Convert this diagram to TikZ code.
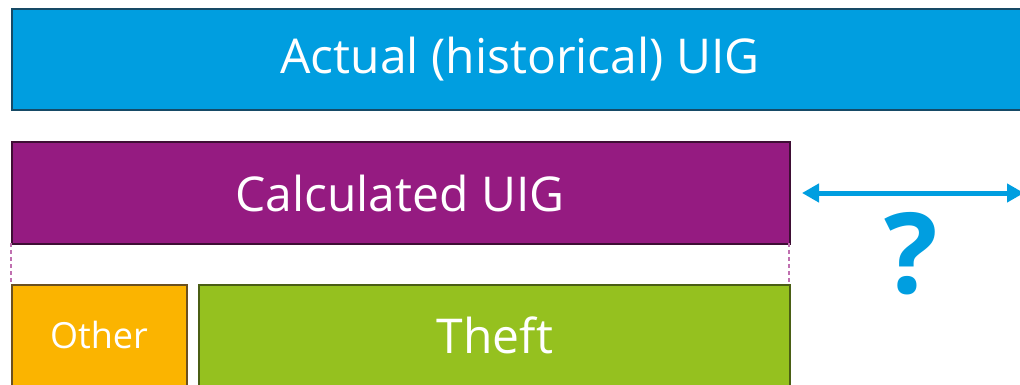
\documentclass[tikz,border=0pt]{standalone}
\usepackage{fontspec}
\setmainfont{Open Sans}
\usetikzlibrary{arrows.meta}
\definecolor{cblue}{RGB}{0,158,224}
\definecolor{cblueb}{RGB}{22,74,102}
\definecolor{cpurple}{RGB}{149,27,129}
\definecolor{cpurpleb}{RGB}{62,14,52}
\definecolor{corange}{RGB}{251,180,0}
\definecolor{coranged}{RGB}{106,80,32}
\definecolor{cgreen}{RGB}{149,193,31}
\definecolor{cgreenb}{RGB}{74,94,20}
\definecolor{cpink}{RGB}{192,112,176}
\tikzset{
  bar/.style={draw, line width=2.4pt, anchor=north west, inner sep=0pt, text=white},
  dashedbox/.style={draw=cpink, dash pattern=on 4pt off 3pt, line width=1.6pt},
}
\begin{document}
\begin{tikzpicture}[x=1pt,y=-1pt]
\useasboundingbox (0,0) rectangle (1020,385);
\clip (0,0) rectangle (1020,385);
\node[bar, fill=cblue, draw=cblueb, minimum width=1020pt, minimum height=101pt] (actual) at (11,8) {};
\node[text=white, font=\fontsize{48}{56}\selectfont] (actualt) at (520,59) {Actual (historical) UIG};
\node[bar, fill=cpurple, draw=cpurpleb, minimum width=778pt, minimum height=102pt] (calc) at (11,141) {};
\node[text=white, font=\fontsize{48}{56}\selectfont] (calct) at (400,193) {Calculated UIG};
\coordinate (dl) at (11,243);
\coordinate (dr) at (789,243);
\coordinate (dlb) at (11,283);
\coordinate (drb) at (789,283);
\draw[dashedbox] (dl) -- (dlb) (dr) -- (drb);
\node[bar, fill=corange, draw=coranged, minimum width=175pt, minimum height=115pt] (other) at (11,284) {};
\node[text=white, font=\fontsize{36}{42}\selectfont] (othert) at (99,335) {Other};
\node[bar, fill=cgreen, draw=cgreenb, minimum width=591pt, minimum height=115pt] (theft) at (198,284) {};
\node[text=white, font=\fontsize{48}{56}\selectfont] (theftt) at (495,335) {Theft};
\coordinate (al) at (802,193);
\coordinate (ar) at (1024,193);
\draw[cblue, line width=5pt, {Triangle[length=17pt,width=18pt]}-{Triangle[length=17pt,width=18pt]}] (al) -- (ar);
\node[text=cblue, font=\bfseries\fontsize{112}{118}\selectfont] (q) at (911,254) {?};
\end{tikzpicture}
\end{document}
